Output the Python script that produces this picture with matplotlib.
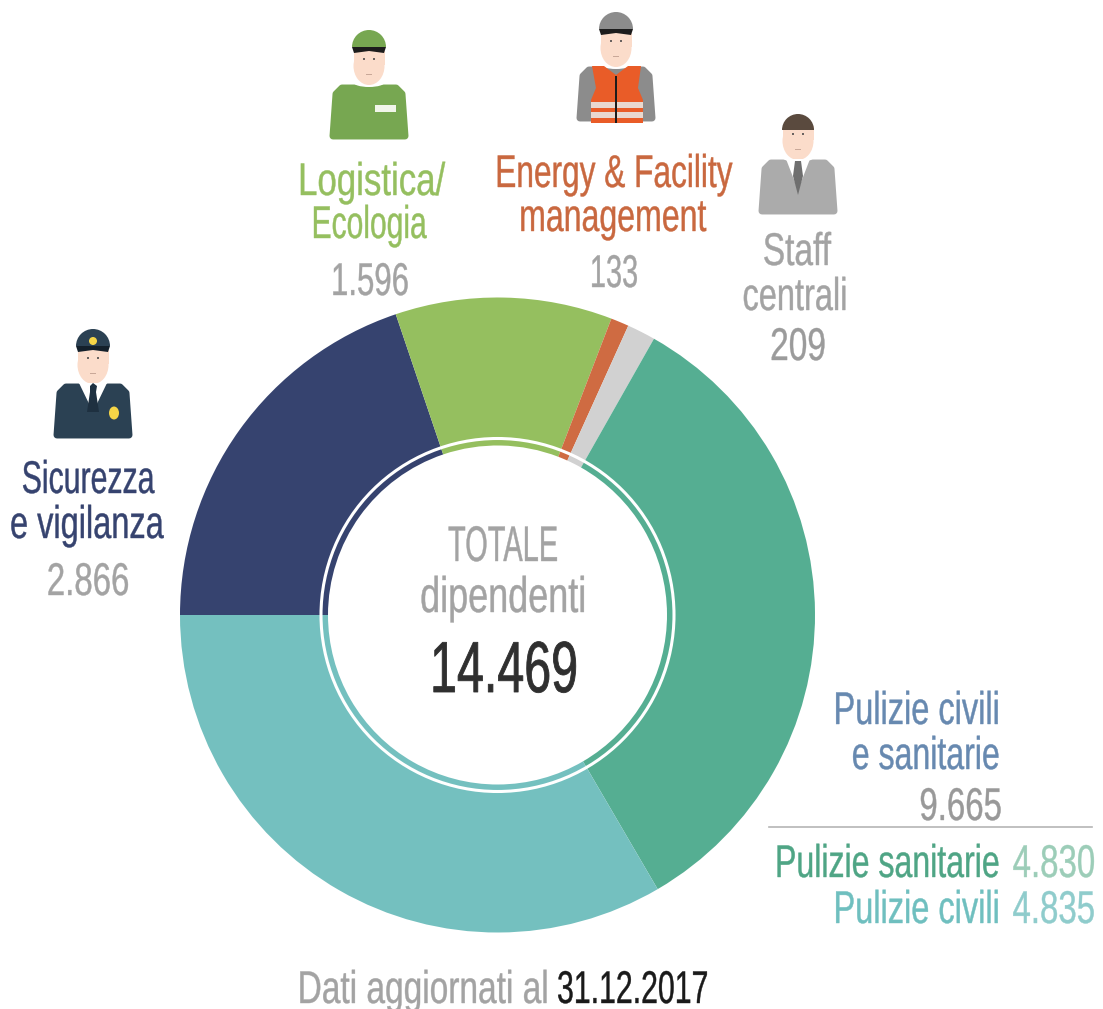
import matplotlib
matplotlib.use('Agg')
import matplotlib.pyplot as plt
from matplotlib.patches import Circle, Ellipse, Polygon, Rectangle, Wedge
from matplotlib.patheffects import AbstractPathEffect
from matplotlib.transforms import Affine2D

plt.rcParams['font.family'] = ['Liberation Sans', 'DejaVu Sans']

# dati (dipendenti al 31.12.2017)
settori = ['Sicurezza e vigilanza', 'Logistica/Ecologia', 'Energy & Facility management',
           'Staff centrali', 'Pulizie sanitarie', 'Pulizie civili']
valori = [2866, 1596, 133, 209, 4830, 4835]
colori = ['#36436f', '#95bf5f', '#cf6b42', '#d1d1d1', '#55ae92', '#74c0bf']

W, H = 1103, 1009
CX, CY, R = 497.5, 615, 317.5


class Alto(AbstractPathEffect):
    # il font originale e' stretto e alto: corpo ridotto e allungato in verticale, con tratto piu' spesso
    def __init__(self, sy, lw):
        super().__init__()
        self.sy = sy
        self.lw = lw

    def draw_path(self, renderer, gc, tpath, affine, rgbFace=None):
        t = Affine2D().scale(1, self.sy) + affine
        gc0 = renderer.new_gc()
        gc0.copy_properties(gc)
        gc0.set_linewidth(self.lw)
        gc0.set_foreground(rgbFace)
        renderer.draw_path(gc0, tpath, t, rgbFace)
        gc0.restore()


fig = plt.figure(figsize=(W / 100, H / 100), dpi=100, facecolor='white')

# ciambella
ax_pie = fig.add_axes([(CX - R) / W, 1 - (CY + R) / H, 2 * R / W, 2 * R / H])
ax_pie.pie(valori, colors=colori, startangle=180, counterclock=False, radius=1,
           wedgeprops={'width': 1 - 169.5 / R, 'linewidth': 0})
ax_pie.set_xlim(-1, 1)
ax_pie.set_ylim(-1, 1)
ax_pie.add_patch(Circle((0, 0), 176.5 / R, fill=False, ec='white', lw=2.2))

# testi e icone in coordinate pixel
ax = fig.add_axes([0, 0, 1, 1], facecolor='none')
ax.set_xlim(0, W)
ax.set_ylim(H, 0)
ax.axis('off')


def label(x, y, s, color, sx=0.70, size=33, ha='center', lw=0.3):
    ax.text(x, y, s, color=color, fontsize=size * sx, ha=ha, va='baseline',
            path_effects=[Alto(1 / sx, lw)])


def persona(cx, y0, corpo, cap=None, brim='#1c1c1c'):
    # corpo
    ax.add_patch(Polygon([(cx - 27, y0 + 5), (cx + 27, y0 + 5), (cx + 33, y0 + 11), (cx + 36, y0 + 53),
                          (cx - 36, y0 + 53), (cx - 33, y0 + 11)],
                         fc=corpo, ec=corpo, lw=5, joinstyle='round', zorder=3))
    # collo e viso
    ax.add_patch(Ellipse((cx, y0 - 1), 32, 10, fc='white', ec='none', zorder=4))
    ax.add_patch(Ellipse((cx, y0 - 17), 31, 38, fc='#fbdcca', ec='none', zorder=5))
    ax.add_patch(Rectangle((cx - 15.5, y0 - 32), 31, 14, fc='#fbdcca', ec='none', zorder=5))
    ax.add_patch(Circle((cx - 5, y0 - 24), 1, fc='#444444', ec='none', zorder=6))
    ax.add_patch(Circle((cx + 5, y0 - 24), 1, fc='#444444', ec='none', zorder=6))
    ax.add_patch(Rectangle((cx - 3, y0 - 9.5), 6, 1, fc='#c9a898', ec='none', zorder=6))
    # cappello
    if cap is not None:
        ax.add_patch(Wedge((cx, y0 - 36), 17, 180, 360, fc=cap, ec='none', zorder=6))
        ax.add_patch(Polygon([(cx - 17, y0 - 36), (cx + 17, y0 - 36), (cx + 15, y0 - 30), (cx, y0 - 32), (cx - 15, y0 - 30)],
                             fc=brim, ec='none', zorder=7))


# Logistica
persona(369, 83, '#77a751', cap='#77a751')
ax.add_patch(Rectangle((375, 105), 21, 7, fc='#f1f5ea', ec='none', zorder=6))

# Energy & Facility
persona(616, 65, '#8c8c8c', cap='#8c8c8c')
ax.add_patch(Polygon([(592, 66), (604, 66), (616, 75), (628, 66), (641, 66), (638, 88), (643, 100), (643, 123),
                      (591, 123), (591, 100), (596, 88)], fc='#e95c28', ec='none', zorder=6))
ax.add_patch(Rectangle((591, 102), 52, 6, fc='#e9d8cf', ec='none', zorder=7))
ax.add_patch(Rectangle((591, 112), 52, 6, fc='#e9d8cf', ec='none', zorder=7))
ax.add_patch(Rectangle((615.3, 76), 2, 47, fc='#1c1c1c', ec='none', zorder=8))

# Staff centrali
persona(798, 158, '#ababab')
ax.add_patch(Wedge((798, 130), 16, 180, 360, fc='#5a4a3e', ec='none', zorder=6))
ax.add_patch(Polygon([(786, 159), (810, 159), (798, 190)], fc='white', ec='none', zorder=6))
ax.add_patch(Polygon([(795, 161), (801, 161), (803, 176), (798, 195), (793, 176)], fc='#6f6f6f', ec='none', zorder=7))

# Sicurezza
persona(93, 382, '#2b4153', cap='#2b4153', brim='#14202b')
ax.add_patch(Circle((93, 341), 4, fc='#f5d547', ec='none', zorder=8))
ax.add_patch(Polygon([(79, 383), (107, 383), (93, 412)], fc='white', ec='none', zorder=6))
ax.add_patch(Polygon([(90, 386), (93, 383), (97, 386), (96, 392), (99, 412), (87, 412), (90, 392)], fc='#1e3040', ec='none', zorder=7))
ax.add_patch(Ellipse((114, 413), 10, 13, fc='#f5d547', ec='none', zorder=7))

GRIGIO = '#a3a3a3'

label(372, 195, 'Logistica/', '#95bf5f', sx=0.76)
label(369, 238, 'Ecologia', '#95bf5f', sx=0.655)
label(370, 295, '1.596', GRIGIO, sx=0.68)

label(614, 187, 'Energy & Facility', '#c9683f', sx=0.69)
label(613, 231, 'management', '#c9683f', sx=0.70)
label(614, 287, '133', GRIGIO, sx=0.63)

label(797, 265, 'Staff', GRIGIO, sx=0.73)
label(795, 310, 'centrali', GRIGIO, sx=0.71)
label(798, 360, '209', '#9b9b9b', sx=0.73)

label(88, 493, 'Sicurezza', '#36436f', sx=0.66)
label(87, 538, 'e vigilanza', '#36436f', sx=0.71)
label(88, 595, '2.866', GRIGIO, sx=0.72)

label(503, 561, 'TOTALE', GRIGIO, sx=0.58, size=36)
label(503, 612, 'dipendenti', GRIGIO, sx=0.72, size=36)
label(504, 692, '14.469', '#2f2f2f', sx=0.67, size=52, lw=0.6)

label(1000, 724, 'Pulizie civili', '#6789b0', sx=0.71, ha='right')
label(1000, 769, 'e sanitarie', '#6789b0', sx=0.70, ha='right')
label(1002, 820, '9.665', '#999999', sx=0.72, ha='right')
ax.plot([769, 1092], [827, 827], color='#b5b5b5', lw=1.2)
label(1000, 877, 'Pulizie sanitarie', '#4fa585', sx=0.70, ha='right')
label(1095, 877, '4.830', '#9ccdb8', sx=0.72, ha='right')
label(1000, 923, 'Pulizie civili', '#6fbfbf', sx=0.71, ha='right')
label(1095, 923, '4.835', '#8fcccc', sx=0.72, ha='right')

label(549, 1003, 'Dati aggiornati al', GRIGIO, sx=0.73, ha='right')
label(557, 1003, '31.12.2017', '#1a1a1a', sx=0.66, ha='left')

fig.savefig('out.png', dpi=100)
